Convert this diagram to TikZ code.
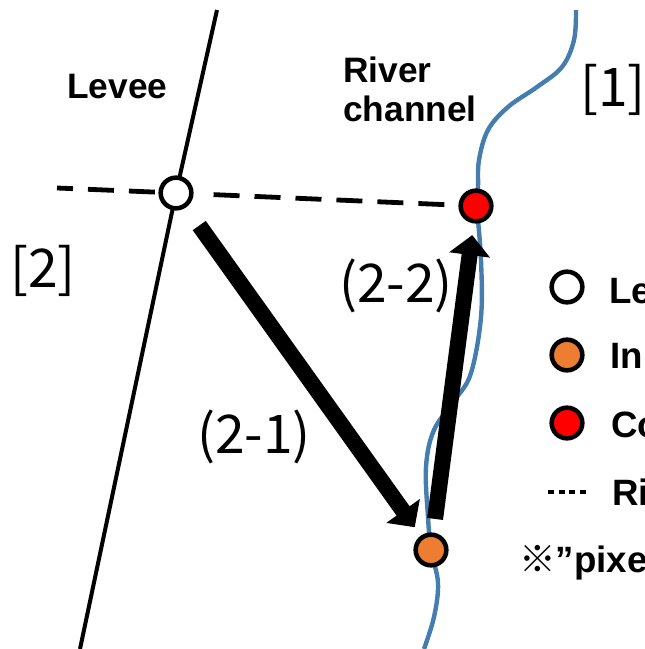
\documentclass[tikz,border=0pt]{standalone}
\usepackage{fontspec}
\setmainfont{Liberation Sans}
\newfontfamily\jp{Noto Sans CJK JP}
\usetikzlibrary{arrows.meta,backgrounds}
\definecolor{riverblue}{RGB}{70,125,175}
\definecolor{intorange}{RGB}{237,125,49}
\definecolor{confred}{RGB}{255,0,0}
\begin{document}
\begin{tikzpicture}[x=0.75pt,y=-0.75pt,
  ptnode/.style={circle,draw=black,line width=3.4pt,minimum size=23pt,inner sep=0pt},
  leveeline/.style={line width=3pt,black},
  riverline/.style={line width=3.3pt,riverblue},
  dashline/.style={line width=3.6pt,black,dash pattern=on 19.5pt off 11.25pt},
  bigarrow/.style={line width=12pt,-{Triangle[length=15pt,width=30pt]}},
  boldlbl/.style={font=\bfseries\fontsize{26.5}{26.5}\selectfont,anchor=base west,inner sep=0pt},
  leglbl/.style={font=\bfseries\fontsize{27.5}{27.5}\selectfont,anchor=base west,inner sep=0pt},
  numlbl/.style={font=\jp\fontsize{40}{40}\selectfont,inner sep=0pt}]
\clip (0,0) rectangle (645,649);

% main points
\node[ptnode,fill=white] (wc) at (176,193) {};
\node[ptnode,fill=confred] (rc) at (476,206) {};
\node[ptnode,fill=intorange] (oc) at (431,550) {};
\coordinate (levTop) at (217,10);
\coordinate (levBot) at (80,649);
\coordinate (dashL) at (57,188);

\begin{scope}[on background layer]
  \draw[leveeline] (levTop) -- (wc.center) -- (levBot);
  \draw[riverline] plot[smooth,tension=0.6] coordinates {
    (576,10) (574,40) (562,67) (537,87) (508,107) (488,130) (479,160)
    (478,187) (477,206) (481,260) (481,317) (471,373) (455,400) (434,430)
    (426,467) (428,517) (431,550) (438,583) (434,617) (424,649)};
\end{scope}

% dashed line
\draw[dashline,dash phase=7.5pt] (dashL) -- (wc);
\draw[dashline,shorten <=15pt] (wc) -- (rc);

% arrows
\draw[bigarrow,shorten <=30pt,shorten >=21pt] (wc.center) -- (oc.center);
\draw[bigarrow,shorten <=23.5pt,shorten >=22pt] (oc.center) -- (rc.center);

% labels
\node[boldlbl] (tLevee) at (67,99) {Levee};
\node[boldlbl] (tRiver) at (343,83) {River};
\node[boldlbl] (tChannel) at (343,122) {channel};
\node[numlbl] (t1) at (613,90) {[1]};
\node[numlbl] (t2) at (43,271) {[2]};
\node[numlbl] (t21) at (254,437) {(2-1)};
\node[numlbl] (t22) at (396,286) {(2-2)};

% legend
\node[ptnode,fill=white] (lgW) at (567,287) {};
\node[ptnode,fill=intorange] (lgO) at (567,355) {};
\node[ptnode,fill=confred] (lgR) at (567,423) {};
\coordinate (lgDa) at (548,492);
\coordinate (lgDb) at (587,492);
\draw[line width=3pt,black,dash pattern=on 4.5pt off 3.4pt] (lgDa) -- (lgDb);
\node[leglbl] (lgT1) at (609,303) {Le};
\node[leglbl] (lgT2) at (610,368) {In};
\node[leglbl] (lgT3) at (611,437) {Co};
\node[leglbl] (lgT4) at (612,505) {Ri};
\node[leglbl] (lgT5) at (519,572) {{\jp ※}”pixe};
\end{tikzpicture}
\end{document}
